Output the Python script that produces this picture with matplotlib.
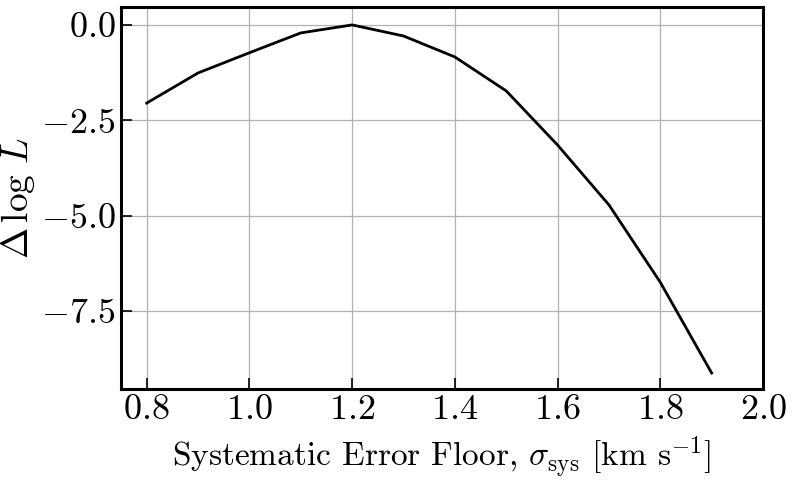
import matplotlib
matplotlib.use("Agg")
from matplotlib import pyplot as plt

# systematic error floor vs change in log-likelihood
sigmaSys = [0.8, 0.9, 1.0, 1.1, 1.2, 1.3, 1.4, 1.5, 1.6, 1.7, 1.8, 1.9]
deltaLogL = [-2.05, -1.26, -0.73, -0.21, 0.0, -0.29, -0.84, -1.73, -3.15, -4.72, -6.75, -9.13]

xTicks = [0.8, 1.0, 1.2, 1.4, 1.6, 1.8, 2.0]
yTicks = [0.0, -2.5, -5.0, -7.5]

plt.rcParams['font.family'] = 'serif'
plt.rcParams['font.serif'] = ['cmr10']
plt.rcParams['mathtext.fontset'] = 'cm'
plt.rcParams['axes.formatter.use_mathtext'] = True
plt.rcParams['axes.unicode_minus'] = True

fig = plt.figure(figsize=(7.93, 4.80), dpi=100)
ax = fig.add_axes([121 / 793, 1 - 389 / 480, (763 - 121) / 793, (389 - 7) / 480])

ax.plot(sigmaSys, deltaLogL, c='k', lw=2)

ax.set_xlim(0.75, 2.0)
ax.set_ylim(-9.55, 0.47)
ax.set_xticks(xTicks)
ax.set_yticks(yTicks)
ax.grid(True, color='#b0b0b0', lw=0.9)
ax.set_axisbelow(True)

ax.tick_params(direction='in', length=8, width=1.2, labelsize=26, pad=4)
for s in ax.spines.values():
    s.set_linewidth(2.2)

ax.set_xlabel(r'Systematic Error Floor, $\sigma_{\rm sys}$ [km s$^{-1}$]', fontsize=24, labelpad=6)
ax.set_ylabel(r'$\Delta\,\log\,L$', fontsize=27, labelpad=3)

fig.savefig('out.png', dpi=100)
